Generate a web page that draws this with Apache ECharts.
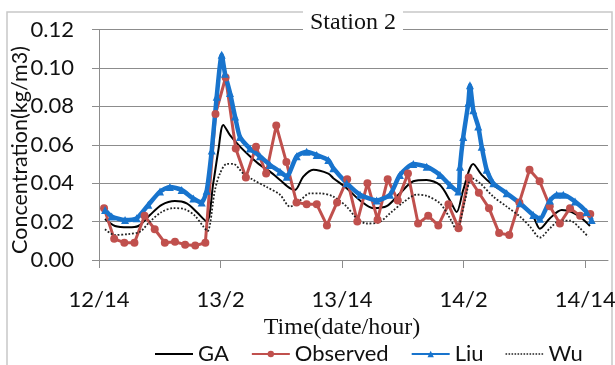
<!DOCTYPE html>
<html>
<head>
<meta charset="utf-8">
<script src="https://cdn.jsdelivr.net/npm/echarts@6/dist/echarts.min.js"></script>
<style>
html,body{margin:0;padding:0;background:#fff;}
#chart{width:615px;height:365px;}
</style>
</head>
<body>
<div id="chart"></div>
<script>
// ---- tick labels (hours since 12/14) ----
const TICK_HOURS = [0, 12, 24, 36, 48];
const TICK_LABELS = ['12/14', '13/2', '13/14', '14/2', '14/14'];

// ---- Observed (hourly) ----
const OBS_HOUR = [0.5,1.5,2.5,3.5,4.5,5.5,6.5,7.5,8.5,9.5,10.5,11.5,12.5,13.5,14.5,15.5,16.5,17.5,18.5,19.5,20.5,21.5,22.5,23.5,24.5,25.5,26.5,27.5,28.5,29.5,30.5,31.5,32.5,33.5,34.5,35.5,36.5,37.5,38.5,39.5,40.5,41.5,42.5,43.5,44.5,45.5,46.5,47.5,48.5];
const OBS_VAL = [0.027,0.011,0.009,0.009,0.023,0.016,0.009,0.0095,0.008,0.0075,0.009,0.076,0.095,0.058,0.043,0.059,0.045,0.070,0.051,0.030,0.029,0.029,0.018,0.030,0.042,0.020,0.040,0.021,0.042,0.031,0.045,0.019,0.023,0.018,0.029,0.0165,0.043,0.035,0.027,0.014,0.013,0.030,0.047,0.041,0.028,0.019,0.027,0.023,0.024];

// ---- GA ----
const GA_HOUR = [0.59,1.58,2.89,3.88,5.03,6.19,7.5,8.66,9.64,10.63,11.28,11.78,12.27,12.93,13.92,14.9,15.89,16.88,17.87,18.85,19.35,20.17,21.15,22.64,23.13,24.45,25.77,27.08,28.4,29.71,31.03,32.35,33.66,34.65,35.31,35.96,36.95,37.78,38.92,40.25,41.56,42.87,43.53,44.52,45.68,46.66,47.65,48.47];
const GA_VAL = [0.0213,0.0177,0.017,0.0177,0.0234,0.0287,0.0307,0.0295,0.025,0.020,0.040,0.057,0.0703,0.065,0.059,0.054,0.0495,0.046,0.0417,0.0374,0.0365,0.0434,0.047,0.045,0.0426,0.0374,0.031,0.027,0.028,0.0347,0.041,0.0417,0.039,0.031,0.025,0.0365,0.050,0.0443,0.039,0.0347,0.0295,0.0226,0.0163,0.0217,0.026,0.025,0.0217,0.0177];

// ---- Liu ----
const LIU_HOUR = [0.6,1.25,2.57,3.72,4.87,6.02,7.0,8.16,9.31,10.14,10.63,11.13,11.62,12.11,12.44,12.93,13.43,13.92,14.9,15.89,16.88,17.87,18.53,19.52,20.5,21.49,22.64,23.13,24.45,25.77,27.41,28.73,29.71,31.03,32.35,33.66,34.65,35.47,35.64,35.96,36.46,36.62,36.95,37.44,37.78,38.27,38.92,40.25,41.56,42.87,43.53,44.52,45.18,45.84,47.0,48.14,48.64];
const LIU_VAL = [0.026,0.0226,0.0208,0.0217,0.0287,0.0356,0.038,0.0365,0.032,0.030,0.036,0.057,0.085,0.1068,0.097,0.087,0.0747,0.064,0.058,0.054,0.0495,0.046,0.0434,0.054,0.0564,0.0547,0.052,0.0478,0.040,0.034,0.031,0.034,0.0443,0.050,0.0486,0.0443,0.039,0.0356,0.0486,0.064,0.0817,0.091,0.078,0.0695,0.059,0.047,0.040,0.0347,0.0295,0.0234,0.0215,0.031,0.034,0.034,0.0304,0.025,0.0208];

// ---- Wu ----
const WU_HOUR = [0.59,1.58,2.89,4.05,5.03,6.19,7.33,8.49,9.48,10.3,10.71,11.45,11.94,12.61,13.26,14.24,15.23,16.55,17.87,18.85,19.84,20.83,21.82,23.13,24.45,25.44,26.43,27.57,28.73,30.04,31.36,32.35,33.66,34.65,35.31,36.13,36.79,37.61,38.92,40.25,41.56,42.55,43.53,44.52,45.51,46.5,47.49,48.3];
const WU_VAL = [0.016,0.013,0.0135,0.0147,0.020,0.025,0.027,0.0264,0.023,0.0174,0.015,0.0365,0.045,0.050,0.050,0.045,0.0417,0.038,0.034,0.0278,0.031,0.0347,0.0347,0.033,0.0278,0.0217,0.019,0.0195,0.0243,0.030,0.034,0.0334,0.0295,0.0217,0.0156,0.031,0.0426,0.040,0.033,0.0278,0.0226,0.0174,0.0117,0.0165,0.0205,0.0205,0.0165,0.012];

const pair = (xs, ys) => xs.map((x, i) => [x, ys[i]]);

const chart = echarts.init(document.getElementById('chart'), null, {renderer: 'canvas'});
const gridGray = '#8c8c8c';
const sans = 'Lato, "Open Sans", sans-serif';
const serif = '"Liberation Serif", "DejaVu Serif", serif';

// legend icons (38 x 8 boxes) : solid line for GA, dotted line for Wu
const corner = 'M0,0 L0.01,0 L0.01,0.01 Z M38,8 L37.99,8 L37.99,7.99 Z ';
const GA_ICON = 'path://' + corner + 'M0,3 L38,3 L38,5 L0,5 Z';
let dots = '';
for (let x = 0; x < 38; x += 3) dots += 'M' + x + ',3.2 L' + (x + 1.6) + ',3.2 L' + (x + 1.6) + ',4.8 L' + x + ',4.8 Z ';
const WU_ICON = 'path://' + corner + dots;

chart.setOption({
  backgroundColor: '#fff',
  animation: false,
  title: {
    text: 'Station 2',
    left: 303, top: 11,
    padding: [0, 7, 0, 7],
    backgroundColor: '#fff',
    textStyle: {fontFamily: serif, fontSize: 24, fontWeight: 'normal', color: '#111'}
  },
  graphic: [
    {
      type: 'rect', silent: true, z: -10,
      shape: {x: 7, y: 12, width: 605, height: 370},
      style: {fill: 'none', stroke: '#c8c8c8', lineWidth: 1.5}
    },
    {
      type: 'text', silent: true, x: 20, y: 150, rotation: Math.PI / 2,
      style: {text: 'Concentration(kg/m3)', fontFamily: sans, fontSize: 21.5, fill: '#111',
              align: 'center', verticalAlign: 'middle'}
    },
    {
      type: 'text', silent: true, x: 342, y: 328,
      style: {text: 'Time(date/hour)', fontFamily: serif, fontSize: 24, fill: '#111',
              align: 'center', verticalAlign: 'middle'}
    }
  ],
  legend: {
    left: 150, top: 338,
    itemWidth: 38, itemHeight: 8, itemGap: 22,
    symbolKeepAspect: false,
    textStyle: {fontFamily: sans, fontSize: 22, color: '#111'},
    data: [
      {name: 'GA', icon: GA_ICON},
      {name: 'Observed'},
      {name: 'Liu'},
      {name: 'Wu', icon: WU_ICON}
    ]
  },
  grid: {left: 99, right: 7, top: 29.5, bottom: 105, containLabel: false, outerBoundsMode: 'none'},
  xAxis: {
    type: 'value', min: 0, max: 50.25, interval: 12,
    axisLine: {show: true, lineStyle: {color: gridGray, width: 1}},
    axisTick: {show: true, length: 8, lineStyle: {color: gridGray}, customValues: TICK_HOURS},
    axisLabel: {
      customValues: TICK_HOURS,
      margin: 29, fontFamily: sans, fontSize: 22, color: '#111',
      formatter: v => { const i = TICK_HOURS.indexOf(v); return i >= 0 ? TICK_LABELS[i] : ''; }
    },
    splitLine: {show: false}
  },
  yAxis: {
    type: 'value', min: 0, max: 0.12, interval: 0.02,
    axisLine: {show: true, lineStyle: {color: gridGray, width: 1}},
    axisTick: {show: true, length: 7, lineStyle: {color: gridGray}},
    axisLabel: {margin: 25, fontFamily: sans, fontSize: 22, color: '#111', formatter: v => v.toFixed(2)},
    splitLine: {show: true, lineStyle: {color: gridGray, width: 1}}
  },
  series: [
    {
      name: 'GA', type: 'line', data: pair(GA_HOUR, GA_VAL),
      smooth: 0.3, symbol: 'none',
      lineStyle: {color: '#000', width: 2}, itemStyle: {color: '#000'}
    },
    {
      name: 'Observed', type: 'line', data: pair(OBS_HOUR, OBS_VAL),
      symbol: 'circle', symbolSize: 8,
      lineStyle: {color: '#C0504D', width: 3}, itemStyle: {color: '#C0504D'}
    },
    {
      name: 'Liu', type: 'line', data: pair(LIU_HOUR, LIU_VAL),
      smooth: 0.2, symbol: 'triangle', symbolSize: 8,
      lineStyle: {color: '#1874CD', width: 4.5}, itemStyle: {color: '#1874CD'}
    },
    {
      name: 'Wu', type: 'line', data: pair(WU_HOUR, WU_VAL),
      smooth: 0.3, symbol: 'none',
      lineStyle: {color: '#222', width: 1.8, type: 'dotted'}, itemStyle: {color: '#222'}
    }
  ]
});
</script>
</body>
</html>
